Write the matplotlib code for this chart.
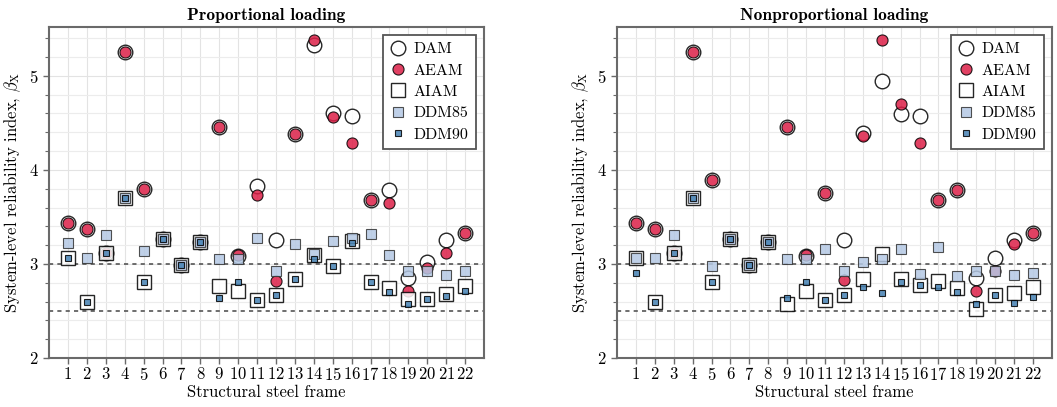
import numpy as np
import matplotlib
matplotlib.use("Agg")
import matplotlib.pyplot as plt
from matplotlib.ticker import MultipleLocator

plt.rcParams["font.family"] = ["cmr10", "DejaVu Serif"]
plt.rcParams["mathtext.fontset"] = "cm"
plt.rcParams["axes.formatter.use_mathtext"] = True

frames = list(range(1, 23))

# proportional loading
prop_dam = [3.44, 3.37, 3.12, 5.25, 3.80, 3.27, 2.99, 3.23, 4.46, 3.08, 3.83,
            3.26, 4.38, 5.33, 4.60, 4.57, 3.68, 3.79, 2.85, 3.02, 3.26, 3.33]
prop_aeam = [3.44, 3.37, 3.12, 5.25, 3.80, 3.27, 2.99, 3.23, 4.46, 3.09, 3.73,
             2.82, 4.38, 5.38, 4.56, 4.29, 3.68, 3.65, 2.71, 2.96, 3.12, 3.33]
prop_aiam = [3.06, 2.60, 3.12, 3.70, 2.81, 3.27, 2.99, 3.23, 2.77, 2.71, 2.62,
             2.67, 2.84, 3.10, 2.98, 3.24, 2.81, 2.74, 2.63, 2.63, 2.68, 2.77]
prop_ddm85 = [3.22, 3.06, 3.31, 3.70, 3.14, 3.27, 2.99, 3.23, 3.05, 3.05, 3.28,
              2.93, 3.21, 3.11, 3.24, 3.28, 3.32, 3.10, 2.92, 2.92, 2.88, 2.92]
prop_ddm90 = [3.06, 2.60, 3.12, 3.70, 2.81, 3.27, 2.99, 3.23, 2.64, 2.81, 2.62,
              2.67, 2.84, 3.05, 2.98, 3.22, 2.81, 2.70, 2.57, 2.63, 2.66, 2.71]

# nonproportional loading
nonp_dam = [3.44, 3.37, 3.12, 5.25, 3.89, 3.27, 2.99, 3.23, 4.46, 3.08, 3.75,
            3.26, 4.39, 4.95, 4.59, 4.57, 3.68, 3.79, 2.85, 3.06, 3.26, 3.33]
nonp_aeam = [3.44, 3.37, 3.12, 5.25, 3.89, 3.27, 2.99, 3.23, 4.46, 3.09, 3.75,
             2.83, 4.36, 5.38, 4.70, 4.29, 3.68, 3.79, 2.71, 2.92, 3.21, 3.33]
nonp_aiam = [3.06, 2.60, 3.12, 3.70, 2.81, 3.27, 2.99, 3.23, 2.57, 2.71, 2.62,
             2.67, 2.84, 3.11, 2.84, 2.78, 2.82, 2.74, 2.52, 2.67, 2.69, 2.75]
nonp_ddm85 = [3.06, 3.06, 3.31, 3.70, 2.98, 3.27, 2.99, 3.23, 3.05, 3.05, 3.16,
              2.93, 3.02, 3.05, 3.16, 2.89, 3.18, 2.87, 2.92, 2.92, 2.88, 2.90]
nonp_ddm90 = [2.90, 2.60, 3.12, 3.70, 2.81, 3.27, 2.99, 3.23, 2.64, 2.81, 2.62,
              2.67, 2.76, 2.69, 2.81, 2.78, 2.76, 2.70, 2.57, 2.67, 2.59, 2.65]

titles = ["Proportional loading", "Nonproportional loading"]
panels = [
    [prop_dam, prop_aeam, prop_aiam, prop_ddm85, prop_ddm90],
    [nonp_dam, nonp_aeam, nonp_aiam, nonp_ddm85, nonp_ddm90],
]
labels = ["DAM", "AEAM", "AIAM", "DDM85", "DDM90"]
styles = [
    dict(marker="o", ms=10.5, mfc="white", mec="black", mew=1.0),
    dict(marker="o", ms=8, mfc="#dc2048", mec="black", mew=0.8),
    dict(marker="s", ms=10, mfc="white", mec="black", mew=1.0),
    dict(marker="s", ms=7.5, mfc="#b4c8e4", mec="#333333", mew=0.8),
    dict(marker="s", ms=5, mfc="#4682b4", mec="black", mew=0.8),
]

fig = plt.figure(figsize=(10.57, 4.07), dpi=100)
axes = [fig.add_axes([0.0464, 0.1204, 0.4115, 0.8133]),
        fig.add_axes([0.5837, 0.1204, 0.4115, 0.8133])]

for ax, title, series in zip(axes, titles, panels):
    for vals, lab, st in zip(series, labels, styles):
        ax.plot(frames, vals, ls="none", label=lab, alpha=0.85, **st)
    ax.axhline(3.0, color="#555555", ls=(0, (2.5, 2.5)), lw=1.2, zorder=1)
    ax.axhline(2.5, color="#555555", ls=(0, (2.5, 2.5)), lw=1.2, zorder=1)

    ax.set_xlim(0, 23)
    ax.set_ylim(2, 5.52)
    ax.set_xticks(frames)
    ax.set_yticks([2, 3, 4, 5])
    ax.yaxis.set_minor_locator(MultipleLocator(0.2))
    ax.grid(True, which="major", color="#e3e3e3", lw=0.8)
    ax.grid(True, which="minor", axis="y", color="#ececec", lw=0.8)
    ax.set_axisbelow(True)

    for sp in ax.spines.values():
        sp.set_color("#6a6a6a")
        sp.set_linewidth(1.5)
    ax.tick_params(which="both", direction="out", color="#6a6a6a", labelsize=12)
    ax.tick_params(which="major", length=4, width=1.0)
    ax.tick_params(which="minor", length=3, width=0.8)
    ax.tick_params(axis="x", pad=2)

    ax.set_title(title, fontfamily="cmb10", fontsize=12.5, pad=5)
    ax.set_xlabel("Structural steel frame", fontsize=12, labelpad=1)
    ax.set_ylabel(r"System-level reliability index, $\beta_{\mathrm{X}}$", fontsize=12)

    leg = ax.legend(loc="upper right", fontsize=11.5, numpoints=1, fancybox=False,
                    framealpha=1, edgecolor="#555555", borderpad=0.45,
                    handlelength=1.0, handletextpad=0.5, labelspacing=0.45,
                    borderaxespad=0.5)
    leg.get_frame().set_linewidth(1.3)

fig.savefig("out.png", dpi=100)
